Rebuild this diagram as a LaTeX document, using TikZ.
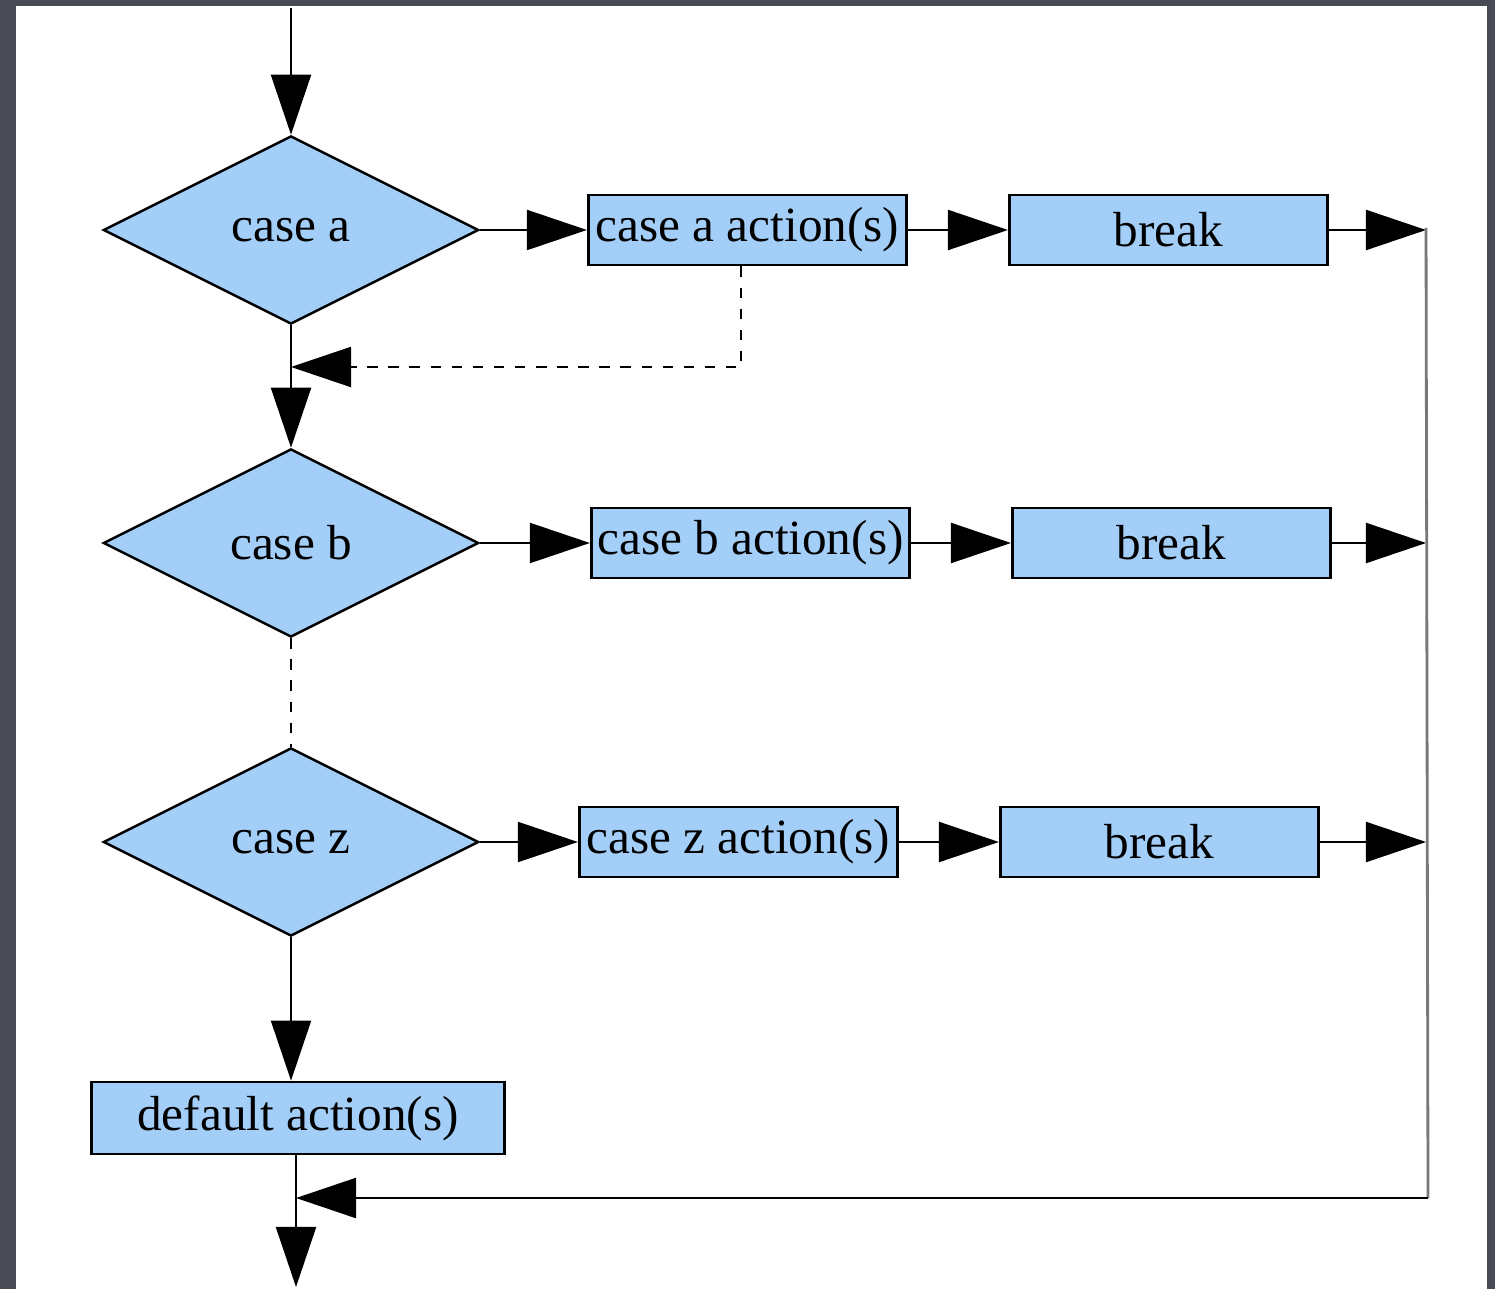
\documentclass[tikz,border=0pt]{standalone}
\usepackage{fontspec}
\setmainfont{Liberation Serif}
\usetikzlibrary{arrows.meta,positioning,shapes.geometric,calc}
\definecolor{bluei}{RGB}{163,206,247}
\definecolor{backi}{RGB}{72,74,86}
\definecolor{grayi}{RGB}{120,120,120}
\tikzset{>={Triangle[length=6mm,width=4mm]},
          decision/.style={
            diamond,draw=black,fill=bluei,line width=0.7pt,
            minimum width=3.75cm,minimum height=1.88cm,inner sep=0pt,
            font=\fontsize{14}{16}\selectfont
          },
          action/.style={
            rectangle,draw=black,fill=bluei,line width=0.8pt,
            minimum width=3.18cm,minimum height=0.7cm,inner sep=0pt,
            font=\fontsize{14}{16}\selectfont
          },
          flow/.style={->,line width=0.6pt}
        }
\newcommand\CaseRow[3]{%
          \node[decision] (c#1) at (291,#2) {case #1};
          \node[action,right=#3cm of c#1] (act#1) {case #1 action(s)};
          \node[action,right=1cm of act#1] (brk#1) {break};
          \draw[flow] (c#1) -- (act#1);
          \draw[flow] (act#1) -- (brk#1);
          \draw[flow] (brk#1.east) -- (brk#1.east -| rtop);
        }

\begin{document}
\begin{tikzpicture}[x=0.01cm,y=-0.01cm,node distance=1cm]
            \useasboundingbox (0,0) rectangle (1495,1289);
            \fill[backi] (0,0) rectangle (1495,1289);
            \fill[white] (16,6) rectangle (1487,1289);

            \coordinate (top) at (291,8);
            \coordinate (rtop) at (1426,228);
            \coordinate (rbot) at (1428,1198);
            \coordinate (ja) at (291,367);
            \coordinate (jz) at (296,1198);
            \coordinate (exit) at (296,1287);

            \CaseRow{a}{230}{1.07}
            \CaseRow{b}{543}{1.1}
            \CaseRow{z}{842}{0.98}

            \node[action,minimum width=4.13cm,minimum height=0.72cm] (dflt) at (298,1118) {default action(s)};

            \draw[flow] (top) -- (ca);
            \draw[flow] (ca) -- (cb);
            \draw[flow,dashed] ([xshift=-0.06cm]acta.south) |- (ja);
            \draw[dashed,line width=0.6pt] (cb) -- (cz);
            \draw[flow] (cz.south) -- (cz.south |- dflt.north);
            \draw[flow] (dflt.south -| jz) -- (exit);

            \draw[grayi,line width=0.8pt] (rtop) -- (rbot);
            \draw[flow] (rbot) -- (jz);
          \end{tikzpicture}
\end{document}
